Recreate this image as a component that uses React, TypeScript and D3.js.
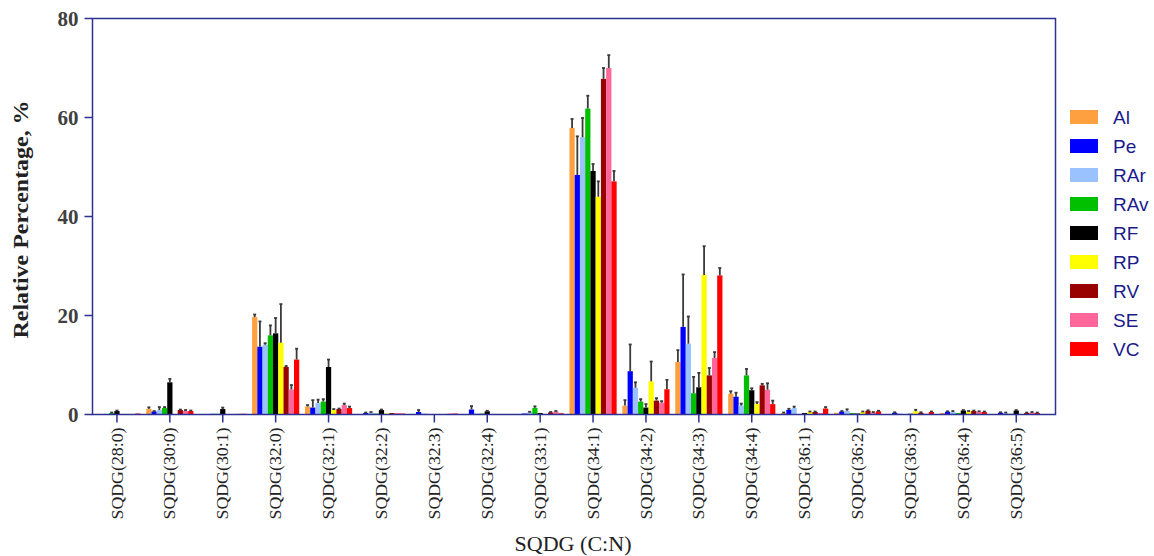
import React from "react";
import * as d3 from "d3";

const categories = ["SQDG(28:0)", "SQDG(30:0)", "SQDG(30:1)", "SQDG(32:0)", "SQDG(32:1)", "SQDG(32:2)", "SQDG(32:3)", "SQDG(32:4)", "SQDG(33:1)", "SQDG(34:1)", "SQDG(34:2)", "SQDG(34:3)", "SQDG(34:4)", "SQDG(36:1)", "SQDG(36:2)", "SQDG(36:3)", "SQDG(36:4)", "SQDG(36:5)"];
const seriesNames = ["Al", "Pe", "RAr", "RAv", "RF", "RP", "RV", "SE", "VC"];
const seriesColors = ["#FFA040", "#0000FF", "#99C2FF", "#00C000", "#000000", "#FFFF00", "#990000", "#FF6699", "#FF0000"];

const Al = [0.1, 1.15, 0, 19.7, 1.6, 0.1, 0.1, 0.1, 0.1, 57.9, 1.8, 10.6, 4.2, 0.3, 0.35, 0.1, 0.3, 0.1];
const AlErr = [0, 0.3, 0, 0.5, 0.3, 0, 0, 0, 0, 1.8, 1.1, 2.4, 0.5, 0.1, 0, 0, 0, 0];
const Pe = [0.05, 0.6, 0.1, 13.7, 1.4, 0.3, 0.5, 1.0, 0.2, 48.4, 8.75, 17.7, 3.6, 0.95, 0.6, 0.35, 0.55, 0.35];
const PeErr = [0, 0.1, 0, 5.1, 1.5, 0.1, 0.4, 0.7, 0, 7.8, 5.4, 10.6, 0.8, 0.2, 0.1, 0.1, 0.1, 0.1];
const RAr = [0.15, 0.9, 0.2, 14.1, 2.3, 0.4, 0.2, 0.2, 0.45, 56.0, 5.4, 14.3, 1.8, 1.3, 0.75, 0.2, 0.5, 0.3];
const RArErr = [0, 0.6, 0, 0.3, 0.7, 0.1, 0, 0, 0.1, 3.9, 1.1, 5.5, 0.4, 0.3, 0.3, 0, 0.2, 0.1];
const RAv = [0.3, 1.3, 0.15, 16.0, 2.6, 0.2, 0.1, 0.2, 1.35, 61.8, 2.6, 4.3, 7.9, 0.1, 0.3, 0.1, 0.3, 0.15];
const RAvErr = [0.1, 0.2, 0, 2.0, 0.5, 0, 0, 0, 0.3, 2.6, 0.5, 3.3, 1.3, 0, 0, 0, 0, 0];
const RF = [0.7, 6.5, 1.1, 16.4, 9.6, 0.9, 0.1, 0.65, 0.3, 49.2, 1.4, 5.5, 4.9, 0.3, 0.2, 0.15, 0.8, 0.8];
const RFErr = [0.1, 0.7, 0.3, 3.1, 1.5, 0.1, 0, 0.1, 0, 1.4, 0.7, 2.9, 0.4, 0, 0, 0, 0.1, 0.1];
const RP = [0, 0, 0, 14.5, 0.9, 0.2, 0.1, 0.1, 0.1, 44.0, 6.7, 28.2, 2.1, 0.5, 0.5, 0.65, 0.6, 0.05];
const RPErr = [0, 0, 0, 7.8, 0.2, 0, 0, 0, 0, 3.1, 4.0, 5.8, 0.4, 0.1, 0.1, 0.3, 0.1, 0];
const RV = [0.1, 0.9, 0, 9.6, 1.1, 0.3, 0.1, 0.1, 0.4, 67.8, 2.8, 7.9, 5.9, 0.5, 0.75, 0.35, 0.7, 0.3];
const RVErr = [0, 0.1, 0, 0.2, 0.1, 0, 0, 0, 0.1, 2.2, 0.5, 1.5, 0.3, 0.1, 0.1, 0.1, 0.1, 0.1];
const SE = [0.1, 0.7, 0.15, 5.05, 1.9, 0.3, 0.2, 0.1, 0.6, 70.0, 2.4, 11.4, 5.0, 0.3, 0.4, 0.15, 0.55, 0.4];
const SEErr = [0, 0.2, 0, 0.9, 0.3, 0, 0, 0, 0.1, 2.6, 0.3, 1.2, 1.3, 0, 0.1, 0, 0.1, 0.1];
const VC = [0.2, 0.7, 0.15, 11.1, 1.3, 0.2, 0.2, 0.1, 0.25, 47.1, 5.1, 28.1, 2.1, 1.2, 0.65, 0.5, 0.5, 0.3];
const VCErr = [0, 0.1, 0, 2.2, 0.3, 0, 0, 0, 0, 2.1, 1.9, 1.5, 0.7, 0.3, 0.1, 0.1, 0.1, 0.1];

const yTicks = [0, 20, 40, 60, 80];

const seriesValues = [Al, Pe, RAr, RAv, RF, RP, RV, SE, VC];
const seriesErrors = [AlErr, PeErr, RArErr, RAvErr, RFErr, RPErr, RVErr, SEErr, VCErr];

export default function App() {
  const W = 1154, H = 556;
  const left = 92.5, right = 1055.5, top = 18.5, bottom = 414.5;
  const axisColor = "#2E3192";

  const x0 = d3.scaleBand<string>().domain(categories).range([90.5, 1042.7]).paddingInner(0).paddingOuter(0);
  const bw = x0.bandwidth();
  const x1 = d3.scaleBand<string>().domain(seriesNames).range([bw * 0.054, bw * 0.946]).padding(0);
  const y = d3.scaleLinear().domain([0, 80]).range([bottom, top]);

  const serif = "'Liberation Serif', 'DejaVu Serif', serif";

  return (
    <svg width={W} height={H} style={{ position: "absolute", left: 0, top: 0, background: "#fff" }}>
      {categories.map((c, ci) => (
        <g key={c}>
          {seriesNames.map((s, si) => {
            const v = seriesValues[si][ci];
            const e = seriesErrors[si][ci];
            const bx = (x0(c) as number) + (x1(s) as number);
            const w = x1.bandwidth();
            const cx = bx + w / 2;
            return (
              <g key={s}>
                {v > 0 && (
                  <rect x={bx} y={y(v)} width={w} height={bottom - y(v)} fill={seriesColors[si]} />
                )}
                {e > 0 && (
                  <g stroke="#3a3a3a" strokeWidth={1.8}>
                    <line x1={cx} x2={cx} y1={y(v)} y2={y(v + e)} />
                    <line x1={cx - 1.5} x2={cx + 1.5} y1={y(v + e)} y2={y(v + e)} />
                  </g>
                )}
              </g>
            );
          })}
        </g>
      ))}

      <rect x={left} y={top} width={right - left} height={bottom - top} fill="none" stroke={axisColor} strokeWidth={1.5} />

      {yTicks.map((t) => (
        <g key={t}>
          <line x1={left - 8} x2={left} y1={y(t)} y2={y(t)} stroke={axisColor} strokeWidth={1.5} />
          <text x={left - 14} y={y(t)} dy="0.35em" textAnchor="end" fontFamily={serif} fontWeight="bold" fontSize={21} fill="#404040">
            {t}
          </text>
        </g>
      ))}

      {categories.map((c) => {
        const cx = (x0(c) as number) + bw / 2;
        return (
          <g key={c}>
            <line x1={cx} x2={cx} y1={bottom} y2={bottom + 8} stroke={axisColor} strokeWidth={1.5} />
            <text
              transform={`translate(${cx},${bottom + 13}) rotate(-90)`}
              textAnchor="end"
              dy="0.35em"
              fontFamily={serif}
              fontSize={16}
              textLength={92}
              lengthAdjust="spacingAndGlyphs"
              fill="#222"
            >
              {c}
            </text>
          </g>
        );
      })}

      <text
        transform={`translate(28,${(top + bottom) / 2 + 3}) rotate(-90)`}
        textAnchor="middle"
        fontFamily={serif}
        fontWeight="bold"
        fontSize={21}
        textLength={238}
        lengthAdjust="spacingAndGlyphs"
        fill="#222"
      >
        Relative Percentage, %
      </text>
      <text x={573} y={551} textAnchor="middle" fontFamily={serif} fontSize={21} textLength={117} lengthAdjust="spacingAndGlyphs" fill="#222">
        SQDG (C:N)
      </text>

      {seriesNames.map((s, i) => (
        <g key={s} transform={`translate(1070,${110 + i * 29})`}>
          <rect x={0} y={0} width={28} height={14} fill={seriesColors[i]} />
          <text x={43} y={7} dy="0.36em" fontFamily="'Liberation Sans', Arial, sans-serif" fontSize={19} fill="#1A1A8C">
            {s}
          </text>
        </g>
      ))}
    </svg>
  );
}
